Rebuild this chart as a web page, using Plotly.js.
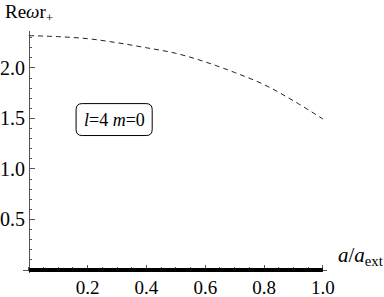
<!DOCTYPE html>
<html>
<head>
<meta charset="utf-8">
<script src="https://cdn.plot.ly/plotly-3.0.1.min.js"></script>
<style>
  html, body { margin: 0; padding: 0; background: #fff; }
  #chart { width: 384px; height: 297px; }
</style>
</head>
<body>
<div id="chart"></div>
<script>
// Data
const spinRatio = [0, 0.1, 0.2, 0.3, 0.4, 0.5, 0.6, 0.7, 0.8, 0.9, 1.0];
const reOmega   = [2.32, 2.31, 2.29, 2.25, 2.20, 2.145, 2.06, 1.955, 1.835, 1.675, 1.495];
const imOmega   = [0, 0, 0, 0, 0, 0, 0, 0, 0, 0, 0];
const xTickVals = [0.2, 0.4, 0.6, 0.8, 1.0];
const xTickText = ["0.2", "0.4", "0.6", "0.8", "1.0"];
const yTickVals = [0.5, 1.0, 1.5, 2.0];
const yTickText = ["0.5", "1.0", "1.5", "2.0"];
const modeLabel = "<i>l</i>=4 <i>m</i>=0";

const serif = "'Liberation Serif'";
const axisColor = "#555";

const xRange = [-0.02, 1.014];
const yRange = [-0.03, 2.366];

const traces = [
  {
    x: spinRatio, y: imOmega, type: "scatter", mode: "lines",
    line: { color: "#000", width: 4 }, hoverinfo: "skip", showlegend: false
  },
  {
    x: spinRatio, y: reOmega, type: "scatter", mode: "lines",
    line: { color: "#222", width: 1, dash: "5px,4px", shape: "spline" },
    hoverinfo: "skip", showlegend: false
  }
];

// rounded box around the mode label (paper coords)
const bx0 = 0.1746, bx1 = 0.425, by0 = 0.568, by1 = 0.70;
const rx = 0.02, ry = 0.025;
const boxPath =
  `M ${bx0 + rx},${by0} L ${bx1 - rx},${by0} Q ${bx1},${by0} ${bx1},${by0 + ry} ` +
  `L ${bx1},${by1 - ry} Q ${bx1},${by1} ${bx1 - rx},${by1} ` +
  `L ${bx0 + rx},${by1} Q ${bx0},${by1} ${bx0},${by1 - ry} ` +
  `L ${bx0},${by0 + ry} Q ${bx0},${by0} ${bx0 + rx},${by0} Z`;

const layout = {
  width: 384, height: 297,
  margin: { l: 23, r: 57, t: 31, b: 24, pad: 0 },
  paper_bgcolor: "#fff", plot_bgcolor: "#fff",
  showlegend: false,
  font: { family: serif, size: 19, color: "#000" },
  xaxis: {
    range: xRange, showgrid: false, zeroline: false,
    showline: true, linecolor: axisColor, linewidth: 1, layer: "below traces",
    anchor: "free", position: 0.0125,
    ticks: "inside", ticklen: 5, tickwidth: 1, tickcolor: axisColor,
    tickvals: xTickVals, ticktext: xTickText,
    tickfont: { family: serif, size: 19, color: "#000" },
    minor: { dtick: 0.05, tick0: 0, ticks: "inside", ticklen: 2.5, tickcolor: axisColor, showgrid: false }
  },
  yaxis: {
    range: yRange, showgrid: false, zeroline: false,
    showline: true, linecolor: axisColor, linewidth: 1, layer: "below traces",
    anchor: "free", position: 0.0193,
    ticks: "inside", ticklen: 5, tickwidth: 1, tickcolor: axisColor,
    tickvals: yTickVals, ticktext: yTickText,
    tickfont: { family: serif, size: 20, color: "#000" },
    minor: { dtick: 0.1, tick0: 0, ticks: "inside", ticklen: 2.5, tickcolor: axisColor, showgrid: false }
  },
  shapes: [
    { type: "path", xref: "paper", yref: "paper", path: boxPath,
      line: { color: "#000", width: 1 }, fillcolor: "rgba(0,0,0,0)" }
  ],
  annotations: [
    { xref: "paper", yref: "paper", x: (bx0 + bx1) / 2, y: (by0 + by1) / 2,
      xanchor: "center", yanchor: "middle", showarrow: false,
      text: modeLabel, font: { family: serif, size: 18, color: "#000" } },
    { xref: "paper", yref: "paper", x: -0.066, y: 1.075,
      xanchor: "left", yanchor: "middle", showarrow: false,
      text: "Re<i>ω</i>r<sub>+</sub>", font: { family: serif, size: 19, color: "#000" } },
    { xref: "paper", yref: "paper", x: 1.03, y: 0.07,
      xanchor: "left", yanchor: "middle", showarrow: false,
      text: "<i>a</i>/<i>a</i><sub>ext</sub>", font: { family: serif, size: 21, color: "#000" } }
  ]
};

Plotly.newPlot("chart", traces, layout, { staticPlot: true, displayModeBar: false });
</script>
</body>
</html>
